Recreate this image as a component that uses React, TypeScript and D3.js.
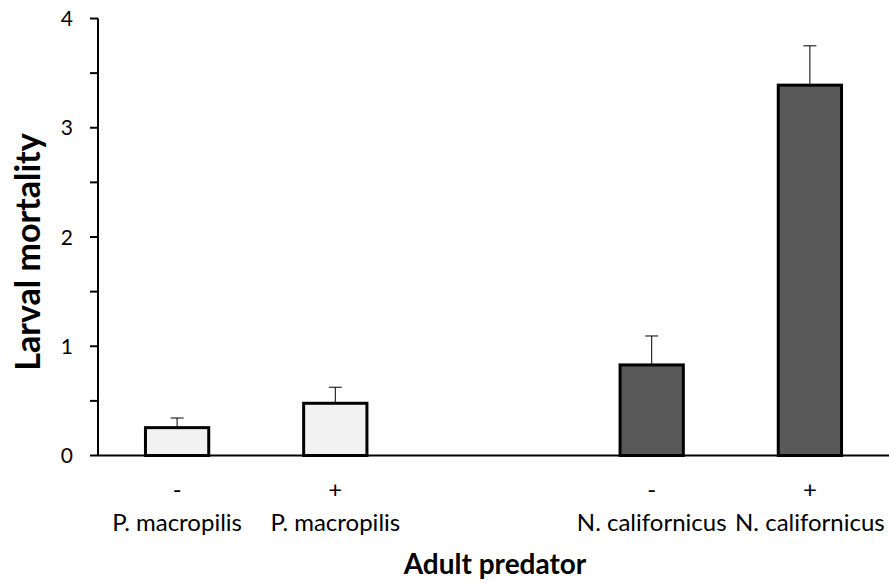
import React from "react";
import * as d3 from "d3";

const categories = ["c1", "c2", "gap", "c3", "c4"];
const signLabels = ["-", "+", "", "-", "+"];
const nameLabels = ["P. macropilis", "P. macropilis", "", "N. californicus", "N. californicus"];
const barCats = ["c1", "c2", "c3", "c4"];
const means = [0.255, 0.478, 0.829, 3.39];
const errors = [0.088, 0.147, 0.265, 0.36];
const fills = ["#f2f2f2", "#f2f2f2", "#595959", "#595959"];
const yTicks = [0, 1, 2, 3, 4];
const yMinorTicks = [0.5, 1.5, 2.5, 3.5];

const W = 889;
const H = 583;
const FONT = "Lato, 'Open Sans', sans-serif";

export default function App() {
  const left = 98;
  const right = 889;
  const top = 18.5;
  const bottom = 455.5;
  const x = d3.scaleBand<string>().domain(categories).range([left, right]).paddingInner(0).paddingOuter(0);
  const y = d3.scaleLinear().domain([0, 4]).range([bottom, top]);
  const slot = x.bandwidth();
  const bw = slot / 2.5;

  return (
    <svg width={W} height={H} style={{ position: "absolute", left: 0, top: 0, background: "#fff" }}>
      {barCats.map((c, i) => {
        const cx = (x(c) as number) + slot / 2;
        return (
          <g key={c}>
            <line x1={cx} x2={cx} y1={y(means[i])} y2={y(means[i] + errors[i])} stroke="#000" strokeWidth={1} />
            <line x1={cx - 6.5} x2={cx + 6.5} y1={y(means[i] + errors[i])} y2={y(means[i] + errors[i])} stroke="#000" strokeWidth={1} />
            <rect x={cx - bw / 2} y={y(means[i])} width={bw} height={y(0) - y(means[i])} fill={fills[i]} stroke="#000" strokeWidth={3} />
          </g>
        );
      })}
      <line x1={left} x2={right} y1={y(0)} y2={y(0)} stroke="#000" strokeWidth={2} />
      <line x1={left} x2={left} y1={y(0)} y2={y(4)} stroke="#000" strokeWidth={2} />
      {yTicks.map((t) => (
        <g key={t}>
          <line x1={left - 8} x2={left} y1={y(t)} y2={y(t)} stroke="#000" strokeWidth={2} />
          <text x={left - 25} y={y(t)} dy="0.36em" textAnchor="end" fontFamily={FONT} fontSize={21} fill="#000">{t}</text>
        </g>
      ))}
      {yMinorTicks.map((t) => (
        <line key={t} x1={left - 8} x2={left} y1={y(t)} y2={y(t)} stroke="#000" strokeWidth={2} />
      ))}
      {categories.map((c, i) => {
        const cx = (x(c) as number) + slot / 2;
        return (
          <g key={c}>
            <text x={cx} y={498} textAnchor="middle" fontFamily={FONT} fontSize={24} fill="#000">{signLabels[i]}</text>
            <text x={cx} y={531} textAnchor="middle" fontFamily={FONT} fontSize={24} fill="#000">{nameLabels[i]}</text>
          </g>
        );
      })}
      <text x={495} y={574} textAnchor="middle" fontFamily={FONT} fontSize={28} fontWeight="bold" fill="#000">Adult predator</text>
      <text transform={`translate(40,252) rotate(-90)`} textAnchor="middle" fontFamily={FONT} fontSize={34} fontWeight="bold" fill="#000">Larval mortality</text>
    </svg>
  );
}
